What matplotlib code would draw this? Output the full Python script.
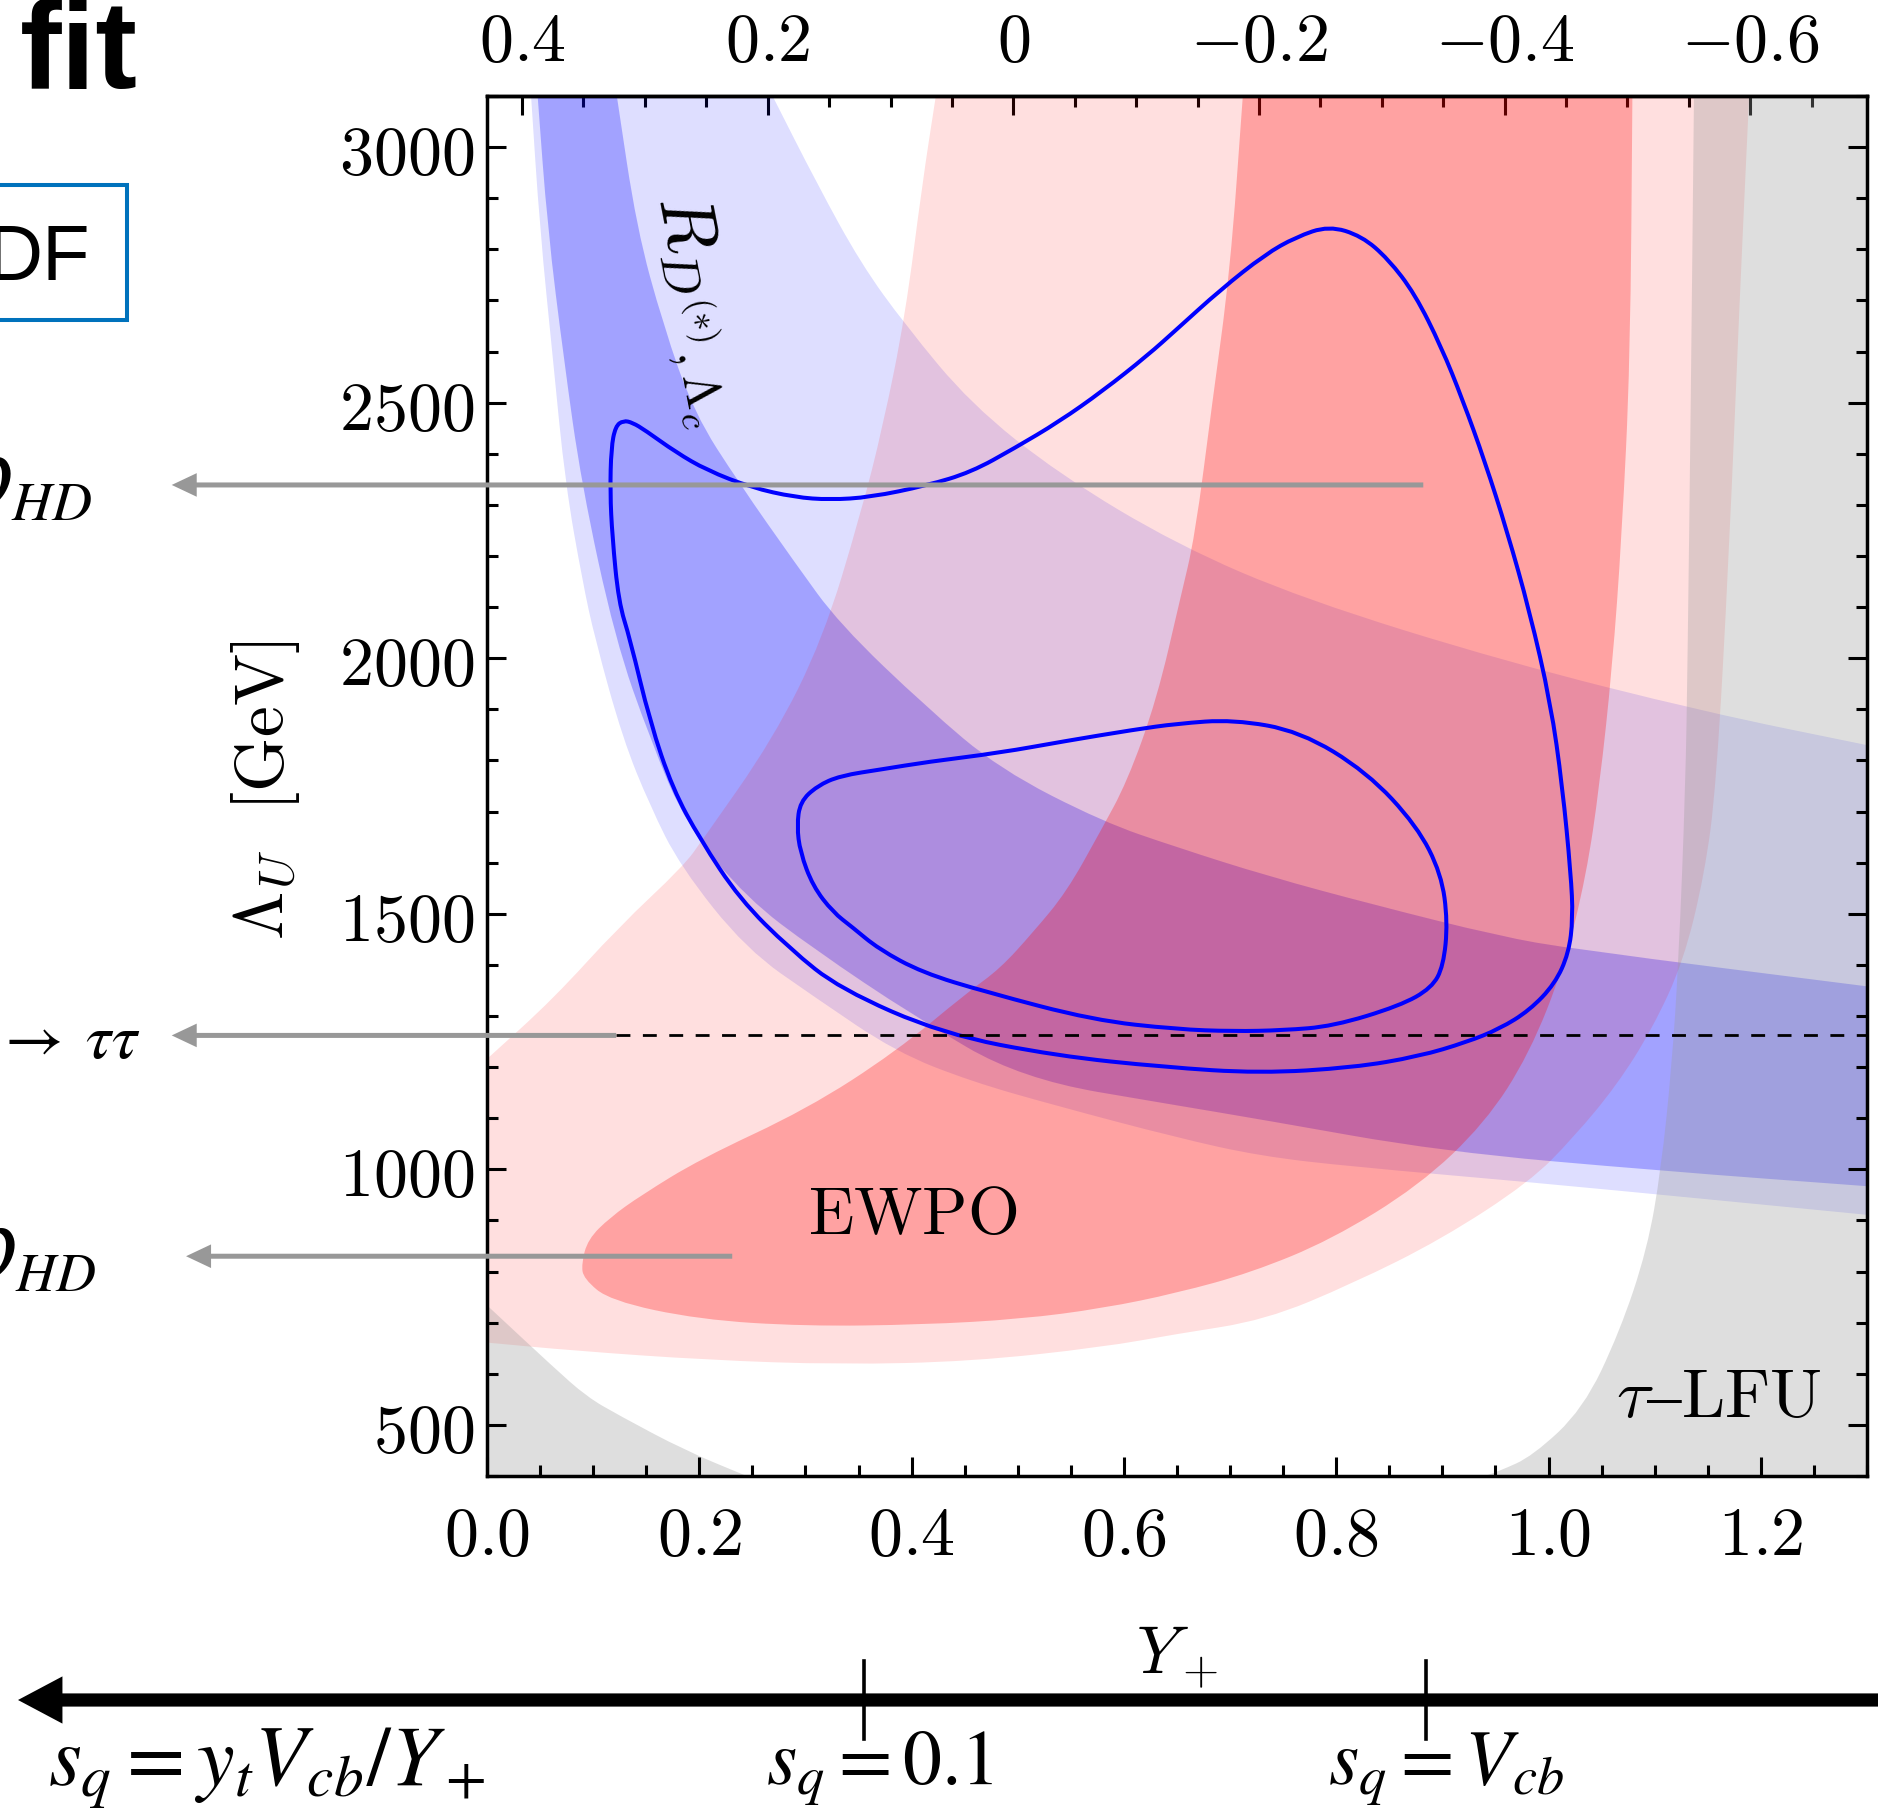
import matplotlib
matplotlib.use("Agg")
import matplotlib.pyplot as plt
import matplotlib.transforms as mtransforms
from matplotlib.patches import FancyArrowPatch, Rectangle, PathPatch
from matplotlib.path import Path
from matplotlib.ticker import MultipleLocator, FuncFormatter

plt.rcParams['mathtext.fontset'] = 'cm'

# ---- data: (Y+, Lambda_U [GeV]) ----
# R_D(*),Lambda_c band, 2 sigma and 1 sigma edges
rd2_lo_x = [0.0415, 0.0497, 0.0622, 0.0738, 0.090, 0.1017, 0.128, 0.1536, 0.182, 0.244, 0.31, 0.385, 0.456, 0.537, 0.65, 0.728, 0.816, 0.982, 1.147, 1.3]
rd2_lo_y = [3100, 2842, 2583, 2341, 2150, 2038, 1842, 1711, 1593, 1431, 1335, 1230, 1172, 1124, 1062, 1026, 1005, 975, 942, 911]
rd2_hi_x = [0.269, 0.311, 0.352, 0.394, 0.456, 0.539, 0.65, 0.77, 0.96, 1.147, 1.3]
rd2_hi_y = [3100, 2928, 2773, 2652, 2497, 2360, 2222, 2115, 1993, 1895, 1830]
rd1_lo_x = [0.0477, 0.057, 0.0725, 0.089, 0.1206, 0.1536, 0.188, 0.245, 0.308, 0.402, 0.503, 0.65, 0.728, 0.899, 1.106, 1.3]
rd1_lo_y = [3100, 2842, 2583, 2341, 2038, 1842, 1672, 1530, 1431, 1300, 1177, 1125, 1098, 1035, 997, 967]
rd1_hi_x = [0.1223, 0.141, 0.166, 0.195, 0.238, 0.29, 0.332, 0.4145, 0.483, 0.58, 0.65, 0.735, 0.8365, 0.954, 1.023, 1.3]
rd1_hi_y = [3100, 2842, 2652, 2480, 2341, 2187, 2067, 1903, 1783, 1680, 1630, 1574, 1517, 1456, 1431, 1358]

# EWPO 2 sigma: upper-left edge, then lower/right edge
ew2_left_x = [0.4228, 0.41, 0.394, 0.373, 0.352, 0.3165, 0.2695, 0.2035, 0.185, 0.124, 0.0622, 0.0]
ew2_left_y = [3100, 2928, 2670, 2454, 2282, 2038, 1842, 1646, 1593, 1474, 1333, 1216]
ew2_right_x = [0.0, 0.083, 0.207, 0.332, 0.456, 0.58, 0.65, 0.733, 0.816, 0.899, 0.982, 1.023, 1.0645, 1.098,
               1.127, 1.147, 1.158, 1.17, 1.18, 1.189]
ew2_right_y = [661, 645, 627, 618, 624, 652, 678, 705, 777, 863, 975, 1061, 1165, 1276,
               1406, 1578, 1750, 2200, 2700, 3100]
# EWPO 1 sigma
ew1_x = [0.712, 0.70, 0.683, 0.667, 0.653, 0.631, 0.603, 0.5775, 0.546, 0.5145, 0.483, 0.453, 0.385, 0.3015,
         0.2007, 0.145, 0.116, 0.095, 0.089, 0.091, 0.116, 0.2, 0.3, 0.41, 0.503, 0.58, 0.65, 0.72, 0.795,
         0.878, 0.94, 0.982, 1.015, 1.0355, 1.048, 1.06, 1.069, 1.077, 1.079]
ew1_y = [3100, 2756, 2497, 2239, 2116, 1920, 1758, 1660, 1543, 1464, 1392, 1347, 1230, 1118,
         1020, 949, 906, 863, 815, 786, 743, 706, 693, 696, 707, 728, 758, 798, 862,
         968, 1090, 1226, 1400, 1575, 1750, 1981, 2239, 2583, 3100]

# tau-LFU excluded regions (edges)
lfu_x = [1.137, 1.134, 1.131, 1.129, 1.1225, 1.116, 1.106, 1.093, 1.067, 1.0325, 0.985, 0.954, 0.94]
lfu_y = [3100, 2500, 2000, 1750, 1406, 1200, 1000, 844, 682, 531, 439, 410, 400]
lfu2_x = [0.0, 0.062, 0.094, 0.124, 0.1865, 0.2446]
lfu2_y = [734, 614, 555, 519, 450, 400]

# global fit contours
outer_x = [0.118, 0.116, 0.117, 0.121, 0.1285, 0.137, 0.149, 0.178, 0.207, 0.249, 0.29, 0.323, 0.361, 0.4145,
           0.456, 0.497, 0.539, 0.58, 0.622, 0.65, 0.691, 0.733, 0.762, 0.793, 0.824, 0.849, 0.874, 0.899,
           0.919, 0.94, 0.961, 0.982, 1.002, 1.013, 1.021, 1.023, 1.019, 1.006, 0.982, 0.954, 0.923, 0.878,
           0.816, 0.728, 0.638, 0.537, 0.4295, 0.3326, 0.2855, 0.238, 0.2007, 0.175, 0.1536, 0.1347, 0.124]
outer_y = [2239, 2325, 2411, 2454, 2465, 2461, 2446, 2403, 2368, 2334, 2315, 2310, 2315, 2338,
           2364, 2411, 2463, 2523, 2592, 2644, 2721, 2790, 2824, 2846, 2826, 2781, 2713, 2609,
           2506, 2385, 2248, 2093, 1912, 1750, 1578, 1492, 1423, 1363, 1311, 1275, 1249, 1221,
           1199, 1188, 1200, 1222, 1265, 1353, 1431, 1529, 1646, 1744, 1875, 2038, 2110]
inner_x = [0.703, 0.65, 0.609, 0.545, 0.483, 0.4145, 0.373, 0.3326, 0.311, 0.295, 0.292, 0.295, 0.307, 0.326,
           0.344, 0.369, 0.41, 0.47, 0.571, 0.65, 0.703, 0.75, 0.797, 0.86, 0.89, 0.901, 0.905, 0.899, 0.876,
           0.829, 0.766]
inner_y = [1880, 1872, 1860, 1838, 1815, 1797, 1783, 1770, 1750, 1719, 1672, 1621, 1554, 1503,
           1474, 1431, 1385, 1347, 1292, 1274, 1270, 1272, 1280, 1320, 1355, 1398, 1484, 1578, 1672,
           1777, 1857]

# bounds shown as arrows (Lambda_U) and where the arrows start (Y+)
bound_y = [2339, 1262, 830]
bound_x = [0.882, 0.1217, 0.231]
bound_labels = [r"$\mathcal{O}_{HD}$", r"$pp\to\;\tau\tau$", r"$\mathcal{O}_{HD}$"]

# s_q axis below the plot
sq_ticks = [0.355, 0.8845]
sq_labels = [r"$s_q = 0.1$", r"$s_q = V_{cb}$"]

# top axis: linear map of Y+
top_slope, top_zero = 0.8644, 0.4958


def mid(a, b):
    return ((a[0] + b[0]) / 2, (a[1] + b[1]) / 2)


def piece(xs, ys, first):
    pts = list(zip(xs, ys))
    verts, codes = [pts[0]], [first]
    if len(pts) > 2:
        verts.append(mid(pts[0], pts[1]))
        codes.append(Path.LINETO)
        for i in range(1, len(pts) - 1):
            verts += [pts[i], mid(pts[i], pts[i + 1])]
            codes += [Path.CURVE3, Path.CURVE3]
    verts.append(pts[-1])
    codes.append(Path.LINETO)
    return verts, codes


def region(*pieces):
    verts, codes = [], []
    for k, (xs, ys) in enumerate(pieces):
        v, c = piece(xs, ys, Path.MOVETO if k == 0 else Path.LINETO)
        verts += v
        codes += c
    verts.append(verts[0])
    codes.append(Path.CLOSEPOLY)
    return Path(verts, codes)


def loop(xs, ys):
    pts = list(zip(xs, ys))
    n = len(pts)
    verts, codes = [mid(pts[-1], pts[0])], [Path.MOVETO]
    for i in range(n):
        verts += [pts[i], mid(pts[i], pts[(i + 1) % n])]
        codes += [Path.CURVE3, Path.CURVE3]
    return Path(verts, codes)


W, H = 1878, 1815
fig = plt.figure(figsize=(W / 100, H / 100), dpi=100)
ax = fig.add_axes([487 / W, 1 - 1477 / H, 1380 / W, 1380 / H])

# filled regions (blue under red, gray on top)
ax.add_patch(PathPatch(region((rd2_lo_x, rd2_lo_y), (rd2_hi_x[::-1], rd2_hi_y[::-1])),
                       fc=(0, 0, 1), alpha=0.13, lw=0, zorder=1))
ax.add_patch(PathPatch(region((rd1_lo_x, rd1_lo_y), (rd1_hi_x[::-1], rd1_hi_y[::-1])),
                       fc=(0, 0, 1), alpha=0.266, lw=0, zorder=1))
ax.add_patch(PathPatch(region((ew2_left_x, ew2_left_y), ([-0.02, -0.02], [1190, 655]), (ew2_right_x, ew2_right_y)),
                       fc=(1, 0, 0), alpha=0.125, lw=0, zorder=1))
ax.add_patch(PathPatch(region((ew1_x, ew1_y)), fc=(1, 0, 0), alpha=0.27, lw=0, zorder=1))
ax.add_patch(PathPatch(region((lfu_x, lfu_y), ([1.35, 1.35], [400, 3100])),
                       fc=(0.61, 0.61, 0.61), alpha=0.33, lw=0, zorder=1))
ax.add_patch(PathPatch(region((lfu2_x, lfu2_y), ([-0.02, -0.02], [400, 740])),
                       fc=(0.61, 0.61, 0.61), alpha=0.33, lw=0, zorder=1))

ax.add_patch(PathPatch(loop(outer_x, outer_y), fill=False, ec='#0000ff', lw=2.9, zorder=3))
ax.add_patch(PathPatch(loop(inner_x, inner_y), fill=False, ec='#0000ff', lw=2.9, zorder=3))

ax.plot([bound_x[1], 1.3], [bound_y[1], bound_y[1]], color='k', lw=2.0, dashes=(5, 4.5), zorder=4)

tips = [-0.297, -0.297, -0.2835]
for yb, xb, xt in zip(bound_y, bound_x, tips):
    arr = FancyArrowPatch((xb, yb), (xt, yb), arrowstyle='simple,head_length=18,head_width=17,tail_width=3.6',
                          mutation_scale=1, color='#989898', lw=0, shrinkA=0, shrinkB=0, clip_on=False, zorder=5)
    ax.add_patch(arr)

ax.text(0.196, 2684, r"$R_{D^{(*)},\Lambda_c}$", rotation=-79, rotation_mode='anchor',
        ha='center', va='center', fontsize=53, zorder=6)
ax.text(0.401, 913, r"$\mathrm{EWPO}$", ha='center', va='center', fontsize=48, zorder=6)
ax.text(1.2577, 517, r"$\tau\mathrm{–LFU}$", ha='right', va='baseline', fontsize=50, zorder=6)

ax.set_xlim(0, 1.3)
ax.set_ylim(400, 3100)
ax.xaxis.set_major_locator(MultipleLocator(0.2))
ax.xaxis.set_minor_locator(MultipleLocator(0.05))
ax.yaxis.set_major_locator(MultipleLocator(500))
ax.yaxis.set_minor_locator(MultipleLocator(100))
ax.xaxis.set_major_formatter(FuncFormatter(lambda v, p: f"${v:.1f}$"))
ax.yaxis.set_major_formatter(FuncFormatter(lambda v, p: f"${v:.0f}$"))
ax.tick_params(which='both', direction='in', top=False, right=True, width=2.2, labelsize=49)
ax.tick_params(which='major', length=14)
ax.tick_params(which='minor', length=8)
ax.tick_params(axis='x', pad=19)
ax.tick_params(axis='y', pad=9)
for s in ax.spines.values():
    s.set_linewidth(2.5)

secax = ax.secondary_xaxis('top', functions=(lambda v: top_slope * (top_zero - v),
                                             lambda t: top_zero - t / top_slope))
secax.xaxis.set_major_locator(MultipleLocator(0.2))
secax.xaxis.set_minor_locator(MultipleLocator(0.05))
secax.xaxis.set_major_formatter(FuncFormatter(lambda v, p: "$0$" if abs(v) < 1e-9 else f"${v:.1f}$"))
secax.tick_params(which='both', direction='in', width=2.2, labelsize=49, pad=16)
secax.tick_params(which='major', length=14)
secax.tick_params(which='minor', length=8)
secax.spines['top'].set_linewidth(2.5)

# axis titles
fig.text(266 / W, 1 - 790 / H, r"$\Lambda_U\ \ [\mathrm{GeV}]$", rotation=90, ha='center', va='center', fontsize=50)
fig.text(1177 / W, 1 - 1657 / H, r"$Y_+$", ha='center', va='center', fontsize=48)

# cropped pieces on the left
fig.text(138 / W, 1 - 88 / H, "fit", family='Liberation Sans', weight='bold', fontsize=90, ha='right', va='baseline')
fig.text(90 / W, 1 - 280 / H, "DF", family='Liberation Sans', fontsize=56, ha='right', va='baseline')
fig.add_artist(Rectangle((-10 / W, 1 - 321 / H), 137 / W, 135 / H, transform=fig.transFigure,
                         fill=False, ec='#0072BC', lw=2.9))
fig.text(92 / W, 1 - 511 / H, bound_labels[0], math_fontfamily='stix', fontsize=57, ha='right', va='baseline')
fig.text(141 / W, 1 - 1058 / H, bound_labels[1], math_fontfamily='stix', fontsize=46, ha='right', va='baseline')
fig.text(96 / W, 1 - 1282 / H, bound_labels[2], math_fontfamily='stix', fontsize=57, ha='right', va='baseline')

# s_q arrow under the axis
yarr = 1 - 1701 / H
fig.add_artist(FancyArrowPatch((1.02, yarr), (18 / W, yarr), transform=fig.transFigure,
                               arrowstyle='simple,head_length=32,head_width=34,tail_width=9.5',
                               mutation_scale=1, color='k', lw=0, shrinkA=0, shrinkB=0))
blend = mtransforms.blended_transform_factory(ax.transData, fig.transFigure)
for xt in sq_ticks:
    ax.plot([xt, xt], [1 - 1662 / H, 1 - 1740 / H], color='k', lw=2.6, transform=blend, clip_on=False)
fig.text(48 / W, 1 - 1785 / H, r"$s_q = y_t V_{cb}/Y_+$", math_fontfamily='stix', fontsize=61, ha='left', va='baseline')
for xc, lab in zip([880, 1446], sq_labels):
    fig.text(xc / W, 1 - 1785 / H, lab, math_fontfamily='stix', fontsize=56, ha='center', va='baseline')

fig.savefig('out.png', dpi=100)
